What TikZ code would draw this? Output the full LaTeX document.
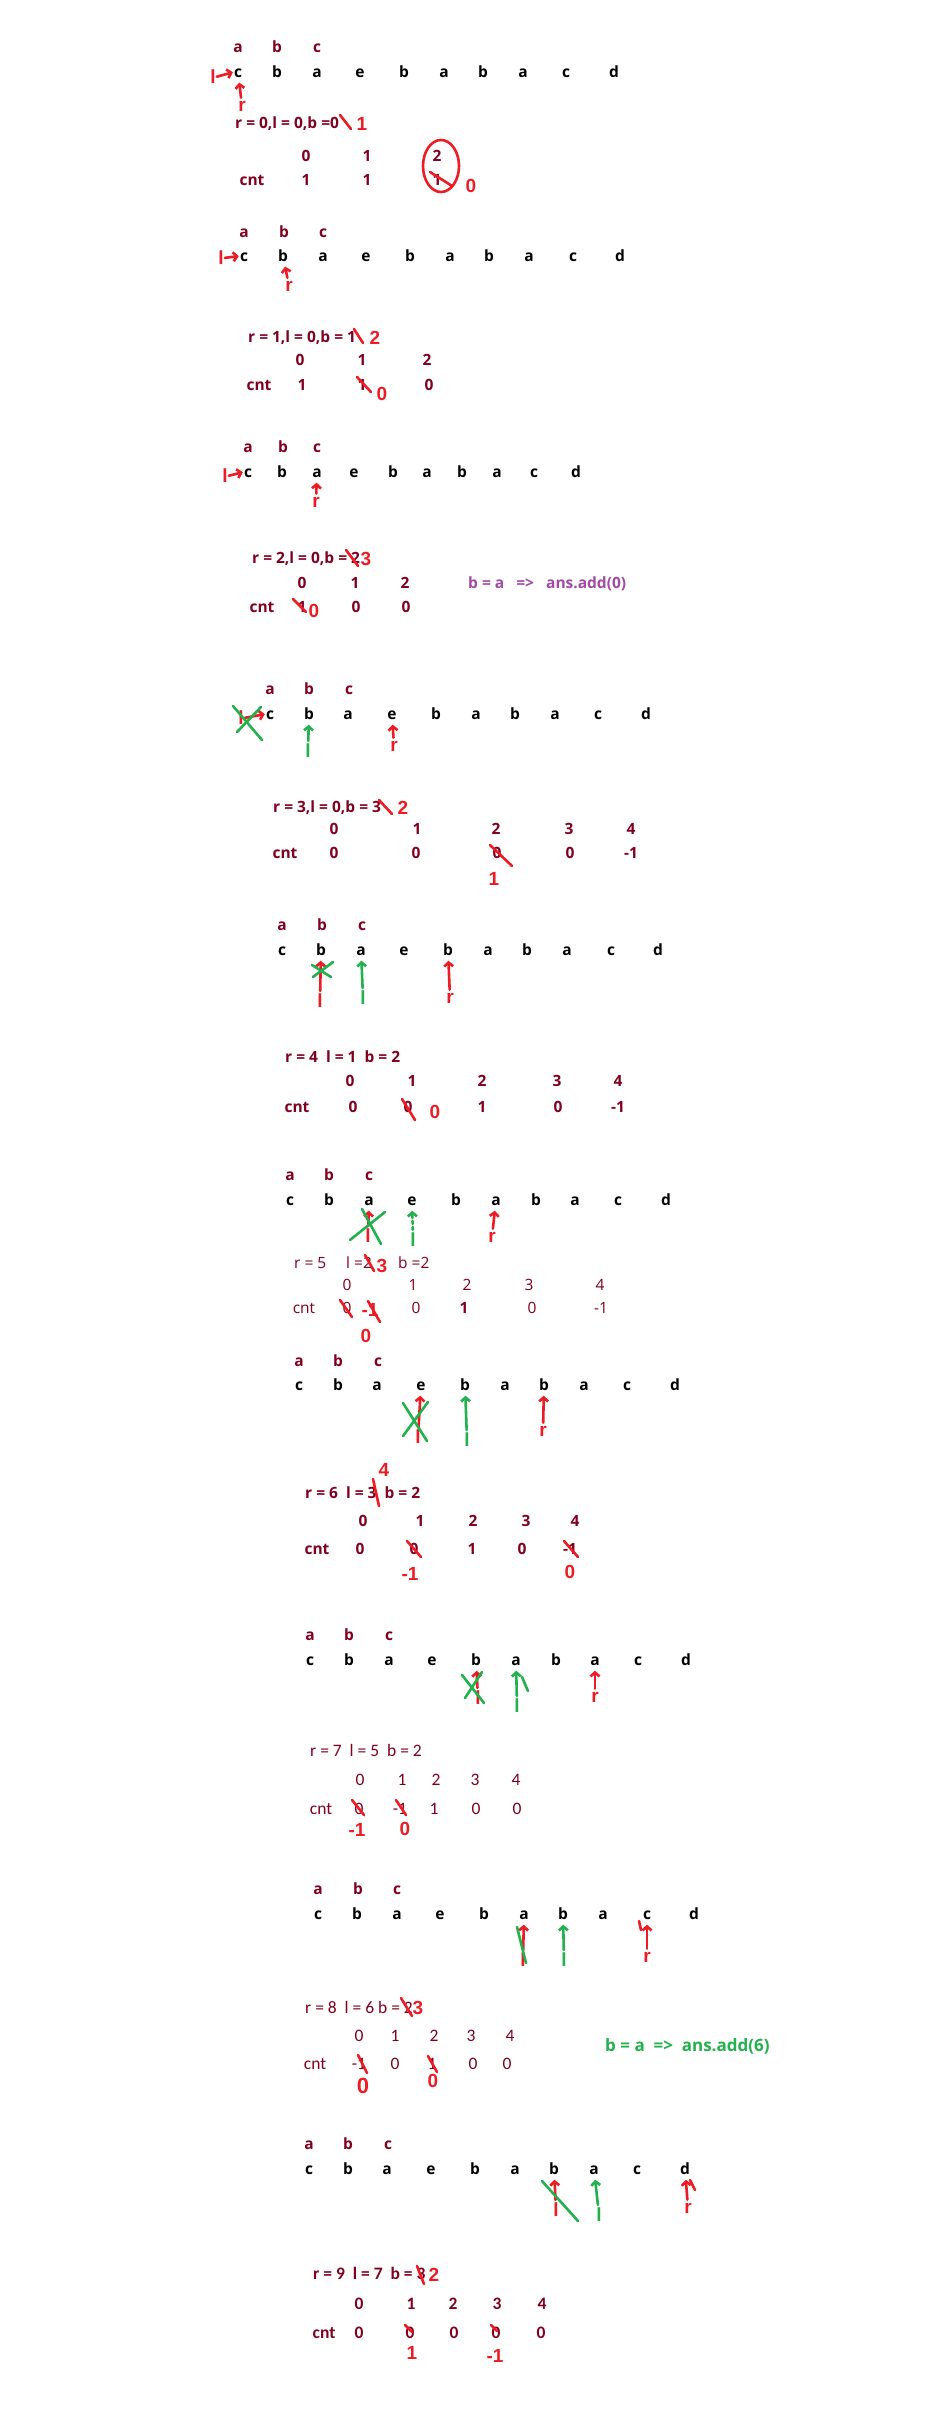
\documentclass[tikz,border=0pt]{standalone}
\usepackage{fontspec}
\setmainfont{Open Sans}
\newfontfamily\calib{Carlito}
\newfontfamily\handf{Liberation Sans}
\usetikzlibrary{arrows.meta}
\definecolor{maroon}{RGB}{128,0,32}
\definecolor{pred}{RGB}{237,28,36}
\definecolor{pgreen}{RGB}{34,177,76}
\definecolor{ppurple}{RGB}{163,73,164}
\newcommand\fsz{\fontsize{15.5}{18}\selectfont}
\newcommand\csz{\fontsize{17.5}{20}\selectfont}
\newcommand\hrow[4]{\foreach \x/\t [count=\i] in {#4} \node[#1] (#2-\i) at (\x,#3) {\t};}
\begin{document}
\begin{tikzpicture}[x=1pt,y=-1pt,
  hdr/.style={text=maroon,font=\bfseries\fsz,inner sep=0pt,text height=11pt,text depth=0pt},
  strl/.style={hdr,text=black},
  numr/.style={hdr,font=\fsz},
  numc/.style={hdr,font=\calib\csz},
  numcb/.style={hdr,font=\calib\bfseries\csz},
  eqb/.style={hdr,anchor=west},
  eqr/.style={numr,anchor=west},
  eqc/.style={numc,anchor=west},
  eqcb/.style={numcb,anchor=west},
  rh/.style={text=pred,font=\handf\bfseries\fontsize{19}{21}\selectfont,inner sep=0pt},
  gh/.style={rh,text=pgreen},
  rpen/.style={draw=pred,line width=2.6pt,line cap=round,line join=round},
  gpen/.style={draw=pgreen,line width=2.6pt,line cap=round,line join=round},
  rarr/.style={rpen,-{Straight Barb[length=4pt,width=9pt]},shorten >=5pt,shorten <=3pt},
  garr/.style={gpen,-{Straight Barb[length=4pt,width=9pt]},shorten >=5pt,shorten <=3pt},
  larr/.style={rpen,-{Straight Barb[length=4pt,width=9pt]},shorten >=1pt,shorten <=1pt}]
\fill[white] (0,0) rectangle (946,2432);
\useasboundingbox (0,0) rectangle (946,2432);

% ---------- section 1 ----------
\hrow{hdr}{h1}{47}{238/a,277/b,317/c}
\hrow{strl}{s1}{72}{238/c,277/b,317/a,360/e,404/b,444/a,483/b,523/a,566/c,614/d}
\node[rh] (l1) at (213,77) {l};
\draw[larr] (l1.east) -- (s1-1.west);
\node[rh] (r1) at (242,106) {r};
\draw[rarr] (r1) -- (s1-1);
\node[eqb] (e1) at (235,123) {r = 0,l = 0,b =0};
\draw[rpen] (340,115) -- (351,129);
\node[rh] (n1a) at (362,124) {1};
\hrow{hdr}{k1}{156}{306/0,367/1,437/2}
\node[hdr] (c1-0) at (252,180) {cnt};
\hrow{hdr}{c1}{180}{306/1,367/1,437/1}
\draw[rpen] (430,172) -- (452,186);
\draw[rpen] (441,166) ellipse [x radius=18pt,y radius=26pt];
\node[rh] (n1b) at (471,186) {0};

% ---------- section 2 ----------
\hrow{hdr}{h2}{232}{244/a,284/b,323/c}
\hrow{strl}{s2}{256}{244/c,283/b,323/a,366/e,410/b,450/a,489/b,529/a,573/c,620/d}
\node[rh] (l2) at (221,258) {l};
\draw[larr] (l2.east) -- (s2-1.west);
\node[rh] (r2) at (289,286) {r};
\draw[rarr] (r2) -- (s2-2);
\node[eqb] (e2) at (248,337) {r = 1,l = 0,b = 1};
\draw[rpen] (354,329) -- (363,343);
\node[rh] (n2a) at (375,338) {2};
\hrow{hdr}{k2}{360}{300/0,362/1,427/2}
\node[hdr] (c2-0) at (259,385) {cnt};
\hrow{hdr}{c2}{385}{302/1,362/1,429/0}
\draw[rpen] (357,377) -- (371,392);
\node[rh] (n2b) at (382,394) {0};

% ---------- section 3 ----------
\hrow{hdr}{h3}{447}{248/a,283/b,317/c}
\hrow{strl}{s3}{472}{248/c,282/b,317/a,354/e,393/b,427/a,462/b,497/a,534/c,576/d}
\node[rh] (l3) at (225,476) {l};
\draw[larr] (l3.east) -- (s3-1.west);
\node[rh] (r3) at (316,502) {r};
\draw[rarr] (r3) -- (s3-3);
\node[eqb] (e3) at (252,558) {r = 2,l = 0,b = 2};
\draw[rpen] (346,550) -- (358,566);
\node[rh] (n3a) at (366,559) {3};
\hrow{hdr}{k3}{583}{302/0,355/1,405/2}
\node[eqb,text=ppurple] (p3) at (468,583) {b = a\ \ \ =>\ \ \ ans.add(0)};
\node[hdr] (c3-0) at (262,607) {cnt};
\hrow{hdr}{c3}{607}{302/1,356/0,406/0}
\draw[rpen] (293,599) -- (306,612);
\node[rh] (n3b) at (314,611) {0};

% ---------- section 4 ----------
\hrow{hdr}{h4}{689}{270/a,309/b,349/c}
\hrow{strl}{s4}{714}{270/c,309/b,348/a,392/e,436/b,476/a,515/b,555/a,598/c,646/d}
\node[rh] (l4) at (241,718) {l};
\draw[larr] (l4.east) -- (s4-1.west);
\draw[gpen] (233,706) -- (262,740);
\draw[gpen] (237,732) -- (261,707);
\node[gh] (g4) at (308,751) {l};
\draw[garr] (g4) -- (s4-2);
\node[rh] (r4) at (394,746) {r};
\draw[rarr] (r4) -- (s4-4);
\node[eqb] (e4) at (273,807) {r = 3,l = 0,b = 3};
\draw[rpen] (379,800) -- (392,814);
\node[rh] (n4a) at (403,808) {2};
\hrow{hdr}{k4}{829}{334/0,417/1,496/2,569/3,631/4}
\node[hdr] (c4-0) at (285,853) {cnt};
\hrow{hdr}{c4}{853}{334/0,416/0,497/0,570/0,631/-1}
\draw[rpen] (490,845) -- (512,866);
\node[rh] (n4b) at (494,879) {1};

% ---------- section 5 ----------
\hrow{hdr}{h5}{925}{282/a,322/b,362/c}
\hrow{strl}{s5}{950}{282/c,321/b,361/a,404/e,448/b,488/a,527/b,567/a,611/c,658/d}
\node[rh] (l5) at (320,1001) {l};
\draw[rarr] (l5) -- (s5-2);
\draw[gpen] (312,965) -- (331,977);
\draw[gpen] (313,977) -- (333,962);
\node[gh] (g5) at (363,998) {l};
\draw[garr] (g5) -- (s5-3);
\node[rh] (r5) at (450,998) {r};
\draw[rarr] (r5) -- (s5-5);
\node[eqb] (e5) at (285,1057) {r = 4\ \ l = 1\ \ b = 2};
\hrow{hdr}{k5}{1081}{350/0,412/1,482/2,557/3,618/4}
\node[hdr] (c5-0) at (297,1107) {cnt};
\hrow{hdr}{c5}{1107}{353/0,408/0,482/1,558/0,618/-1}
\draw[rpen] (402,1099) -- (415,1120);
\node[rh] (n5a) at (435,1112) {0};

% ---------- section 6 ----------
\hrow{hdr}{h6}{1175}{290/a,329/b,369/c}
\hrow{strl}{s6}{1200}{290/c,329/b,369/a,412/e,456/b,496/a,536/b,575/a,618/c,666/d}
\node[rh] (l6) at (368,1236) {l};
\draw[rarr] (l6) -- (s6-3);
\draw[gpen] (350,1240) -- (385,1212);
\draw[gpen] (362,1209) -- (381,1244);
\node[gh] (g6) at (413,1240) {l};
\draw[garr,dashed] (g6) -- (s6-4);
\node[rh] (r6) at (492,1237) {r};
\draw[rarr] (r6) -- (s6-6);
\node[eqr] (e6a) at (294,1263) {r = 5};
\node[eqr] (e6b) at (346,1263) {l =2};
\draw[rpen] (365,1255) -- (374,1271);
\node[rh] (n6a) at (382,1266) {3};
\node[eqr] (e6c) at (398,1263) {b =2};
\hrow{numr}{k6}{1285}{347/0,413/1,467/2,529/3,600/4}
\node[numr] (c6-0) at (304,1308) {cnt};
\hrow{numr}{c6}{1308}{347/0,416/0,464/\textbf{1},532/0,601/-1}
\draw[rpen] (340,1300) -- (352,1317);
\node[rh] (n6b) at (370,1310) {-1};
\draw[rpen] (368,1301) -- (380,1322);
\node[rh] (n6c) at (366,1336) {0};

% ---------- section 7 ----------
\hrow{hdr}{h7}{1361}{299/a,338/b,378/c}
\hrow{strl}{s7}{1385}{299/c,338/b,377/a,421/e,465/b,505/a,544/b,584/a,627/c,675/d}
\node[rh] (l7) at (418,1437) {l};
\draw[rarr] (l7) -- (s7-4);
\draw[gpen] (403,1403) -- (427,1441);
\draw[gpen] (403,1436) -- (428,1402);
\node[gh] (g7) at (467,1440) {l};
\draw[garr] (g7) -- (s7-5);
\node[rh] (r7) at (543,1431) {r};
\draw[rarr] (r7) -- (s7-7);
\node[eqb] (e7) at (305,1493) {r = 6\ \ l = 3\ \ b = 2};
\draw[rpen] (373,1479) -- (379,1506);
\node[rh] (n7a) at (384,1470) {4};
\hrow{hdr}{k7}{1521}{363/0,420/1,473/2,526/3,575/4}
\node[hdr] (c7-0) at (317,1549) {cnt};
\hrow{hdr}{c7}{1549}{360/0,414/0,472/1,522/0,570/-1}
\draw[rpen] (407,1541) -- (421,1557);
\draw[rpen] (564,1541) -- (578,1557);
\node[rh] (n7b) at (410,1574) {-1};
\node[rh] (n7c) at (570,1572) {0};

% ---------- section 8 ----------
\hrow{hdr}{h8}{1635}{310/a,349/b,389/c}
\hrow{strl}{s8}{1660}{310/c,349/b,389/a,432/e,476/b,516/a,556/b,595/a,638/c,686/d}
\node[rh] (l8) at (478,1698) {l};
\draw[rarr] (l8) -- (s8-5);
\draw[gpen] (462,1675) -- (484,1703);
\draw[gpen] (465,1698) -- (482,1672);
\node[gh] (g8) at (517,1706) {l};
\draw[garr] (g8) -- (s8-6);
\draw[gpen] (522,1677) -- (528,1691);
\node[rh] (r8) at (595,1697) {r};
\draw[rarr] (r8) -- (s8-8);
\node[eqc] (e8) at (310,1751) {r = 7\ \ l = 5\ \ b = 2};
\hrow{numc}{k8}{1780}{360/0,402/1,436/2,475/3,516/4}
\node[numc] (c8-0) at (321,1809) {cnt};
\hrow{numc}{c8}{1809}{359/0,400/-1,434/1,476/0,517/0}
\draw[rpen] (352,1800) -- (364,1815);
\draw[rpen] (396,1800) -- (406,1815);
\node[rh] (n8a) at (357,1830) {-1};
\node[rh] (n8b) at (405,1829) {0};

% ---------- section 9 ----------
\hrow{hdr}{h9}{1889}{318/a,358/b,397/c}
\hrow{strl}{s9}{1914}{318/c,357/b,397/a,440/e,484/b,524/a,563/b,603/a,647/c,694/d}
\node[rh] (l9) at (523,1960) {l};
\draw[rarr] (l9) -- (s9-6);
\draw[gpen] (517,1927) -- (526,1963);
\node[gh] (g9) at (564,1960) {l};
\draw[garr] (g9) -- (s9-7);
\node[rh] (r9) at (647,1957) {r};
\draw[rarr] (r9) -- (s9-9);
\draw[rpen] (639,1921) -- (641,1930);
\node[eqc] (e9) at (305,2008) {r = 8\ \ l = 6 b = 2};
\draw[rpen] (401,1998) -- (412,2016);
\node[rh] (n9a) at (418,2008) {3};
\hrow{numc}{k9}{2036}{359/0,395/1,434/2,471/3,510/4}
\node[eqb,text=pgreen,font=\bfseries\fontsize{17}{20}\selectfont] (p9) at (605,2046) {b = a\ \ =>\ \ ans.add(6)};
\node[numc] (c9-0) at (315,2064) {cnt};
\hrow{numc}{c9}{2064}{359/-1,395/0,432/1,473/0,507/0}
\draw[rpen] (358,2055) -- (367,2073);
\draw[rpen] (428,2056) -- (437,2072);
\node[rh,font=\handf\bfseries\fontsize{22}{24}\selectfont] (n9b) at (363,2086) {0};
\node[rh] (n9c) at (433,2081) {0};

% ---------- section 10 ----------
\hrow{hdr}{h10}{2144}{309/a,348/b,388/c}
\hrow{strl}{s10}{2169}{309/c,348/b,387/a,431/e,475/b,515/a,554/b,594/a,637/c,685/d}
\node[rh] (l10) at (556,2210) {l};
\draw[rarr] (l10) -- (s10-7);
\draw[gpen] (542,2181) -- (578,2221);
\node[gh] (g10) at (599,2215) {l};
\draw[garr] (g10) -- (s10-8);
\node[rh] (r10) at (688,2208) {r};
\draw[rarr] (r10) -- (s10-10);
\draw[rpen] (690,2180) -- (695,2190);
\node[eqcb] (e10) at (313,2274) {r = 9\ \ l = 7\ \ b = 3};
\draw[rpen] (417,2266) -- (424,2284);
\node[rh] (n10a) at (434,2275) {2};
\hrow{numcb}{k10}{2304}{359/0,411/1,453/2,497/3,542/4}
\node[numcb] (c10-0) at (324,2333) {cnt};
\hrow{numcb}{c10}{2333}{359/0,410/0,454/0,496/0,541/0}
\draw[rpen] (405,2325) -- (412,2332);
\draw[rpen] (491,2325) -- (497,2331);
\node[rh] (n10b) at (412,2353) {1};
\node[rh] (n10c) at (495,2356) {-1};
\end{tikzpicture}
\end{document}
